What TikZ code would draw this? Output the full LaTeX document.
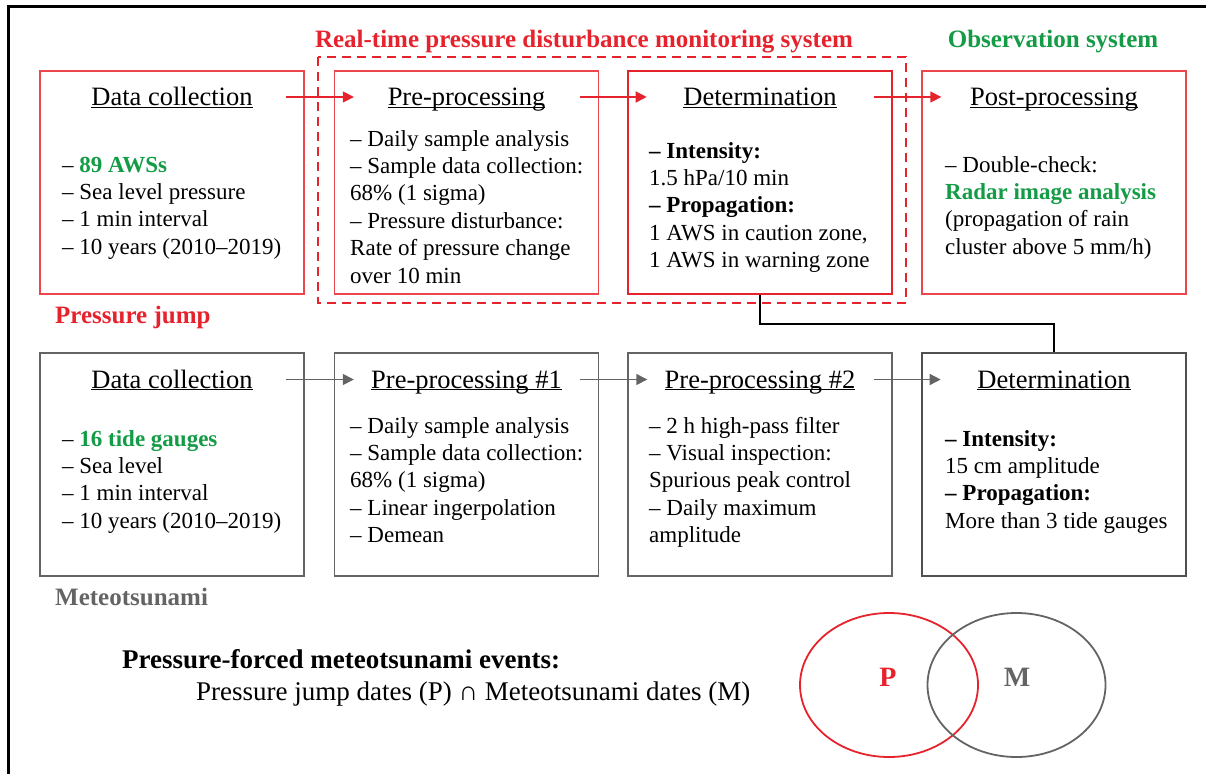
\documentclass[tikz,border=0pt]{standalone}
\usepackage{fontspec}
\setmainfont{Liberation Serif}
\usetikzlibrary{arrows.meta}

\newcommand{\hdline}[1]{\underline{\smash{#1}}}

\begin{document}
\begin{tikzpicture}[x=1pt, y=-1pt,
        pjbox/.style={draw=pjline, line width=1.3pt, minimum width=264pt, minimum height=223pt, inner sep=0pt},
        mtbox/.style={draw=mtgray, line width=1.4pt, minimum width=264pt, minimum height=223pt, inner sep=0pt},
        heading/.style={font=\fontsize{26.5}{30}\selectfont, anchor=base, inner sep=0pt},
        body/.style={font=\fontsize{23}{27.4}\selectfont, anchor=north west, align=left, inner sep=0pt},
        label/.style={font=\bfseries\fontsize{25}{28}\selectfont, anchor=base west, inner sep=0pt},
        pjarrow/.style={draw=pjred, line width=1.4pt, -{Triangle[length=11pt,width=11pt]}},
        mtarrow/.style={draw=mtgray, line width=1.4pt, -{Triangle[length=11pt,width=11pt]}}]
        % Define colors
        \definecolor{pjred}{RGB}{230, 35, 45}
        \definecolor{pjline}{RGB}{235, 70, 75}
        \definecolor{pjgreen}{RGB}{20, 155, 70}
        \definecolor{mtgray}{RGB}{100, 100, 100}

        \useasboundingbox (0,0) rectangle (1206,774);
        % Frame (cut at right and bottom)
        \draw[line width=3pt] (1206,6) -- (8,6) -- (8,774);

        % --- Titles ---
        \node[label, anchor=base, text=pjred] (rtitle) at (584,47) {Real-time pressure disturbance monitoring system};
        \node[label, anchor=base, text=pjgreen] (otitle) at (1053,47) {Observation system};
        \node[label, text=pjred] (pjtitle) at (55,323) {Pressure jump};
        \node[label, text=mtgray] (mttitle) at (55,605) {Meteotsunami};

        % --- ROW 0 (Pressure jump) ---
        \node[pjbox] (pj1) at (172,182.5) {};
        \node[pjbox] (pj2) at (466.5,182.5) {};
        \node[pjbox, draw=pjred, line width=2.6pt] (pj3) at (760,182.5) {};
        \node[pjbox] (pj4) at (1054,182.5) {};
        \draw[pjred, line width=2pt, dash pattern=on 9pt off 6pt] (318,57) rectangle (906,303);

        \node[heading] (pj1h) at (pj1 |- 0,105.5) {\hdline{Data collection}};
        \node[heading] (pj2h) at (pj2 |- 0,105.5) {\hdline{Pre-processing}};
        \node[heading] (pj3h) at (pj3 |- 0,105.5) {\hdline{Determination}};
        \node[heading] (pj4h) at (pj4 |- 0,105.5) {\hdline{Post-processing}};

        % body nodes: top edge = first baseline - strut height
        \node[body] (pj1b) at (62,152.8) {\strut-- \textcolor{pjgreen}{\bfseries 89 AWSs}\\-- Sea level pressure\\-- 1 min interval\\-- 10 years (2010--2019)};
        \node[body] (pj2b) at (350,126.8) {\strut-- Daily sample analysis\\-- Sample data collection:\\68\% (1 sigma)\\-- Pressure disturbance:\\Rate of pressure change\\over 10 min};
        \node[body] (pj3b) at (649,138.8) {\strut\textbf{-- Intensity:}\\1.5 hPa/10 min\\\textbf{-- Propagation:}\\1 AWS in caution zone,\\1 AWS in warning zone};
        \node[body] (pj4b) at (945,152.8) {\strut-- Double-check:\\\textcolor{pjgreen}{\bfseries Radar image analysis}\\(propagation of rain\\cluster above 5 mm/h)};

        \foreach \a/\b in {pj1/pj2, pj2/pj3, pj3/pj4}
            \draw[pjarrow] ([xshift=-19pt, yshift=8.5pt]\a.east |- \a h.base) -- ([xshift=20pt, yshift=8.5pt]\b.west |- \b h.base);

        % --- ROW 1 (Meteotsunami) ---
        \node[mtbox] (mt1) at (172,464.5) {};
        \node[mtbox] (mt2) at (466.5,464.5) {};
        \node[mtbox] (mt3) at (760,464.5) {};
        \node[mtbox, draw=mtgray!80!black, line width=2.6pt] (mt4) at (1054,464.5) {};

        \node[heading] (mt1h) at (mt1 |- 0,388) {\hdline{Data collection}};
        \node[heading] (mt2h) at (mt2 |- 0,388) {\hdline{Pre-processing \#1}};
        \node[heading] (mt3h) at (mt3 |- 0,388) {\hdline{Pre-processing \#2}};
        \node[heading] (mt4h) at (mt4 |- 0,388) {\hdline{Determination}};

        \node[body] (mt1b) at (62,426.8) {\strut-- \textcolor{pjgreen}{\bfseries 16 tide gauges}\\-- Sea level\\-- 1 min interval\\-- 10 years (2010--2019)};
        \node[body] (mt2b) at (350,413.8) {\strut-- Daily sample analysis\\-- Sample data collection:\\68\% (1 sigma)\\-- Linear ingerpolation\\-- Demean};
        \node[body] (mt3b) at (649,413.8) {\strut-- 2 h high-pass filter\\-- Visual inspection:\\Spurious peak control\\-- Daily maximum\\amplitude};
        \node[body] (mt4b) at (945,426.8) {\strut\textbf{-- Intensity:}\\15 cm amplitude\\\textbf{-- Propagation:}\\More than 3 tide gauges};

        \foreach \a/\b in {mt1/mt2, mt2/mt3, mt3/mt4}
            \draw[mtarrow] ([xshift=-19pt, yshift=8.5pt]\a.east |- \a h.base) -- ([xshift=20pt, yshift=8.5pt]\b.west |- \b h.base);

        % Link between the two determinations
        \draw[line width=2pt] (pj3.south) -- (pj3.south |- 0,324) -| (mt4.north);

        % --- Events ---
        \node[label, font=\bfseries\fontsize{27}{30}\selectfont] (evtitle) at (122,668) {Pressure-forced meteotsunami events:};
        \node[label, font=\fontsize{27}{30}\selectfont] (evtext) at (196,700) {Pressure jump dates (P) ∩ Meteotsunami dates (M)};

        \draw[pjred, line width=1.8pt] (889,685) ellipse [x radius=89, y radius=72];
        \draw[mtgray, line width=1.8pt] (1016.5,685) ellipse [x radius=89, y radius=72];
        \node[label, anchor=base, font=\bfseries\fontsize{28}{30}\selectfont, text=pjred] (pset) at (888,686) {P};
        \node[label, anchor=base, font=\bfseries\fontsize{28}{30}\selectfont, text=mtgray] (mset) at (1017,686) {M};
\end{tikzpicture}
\end{document}
